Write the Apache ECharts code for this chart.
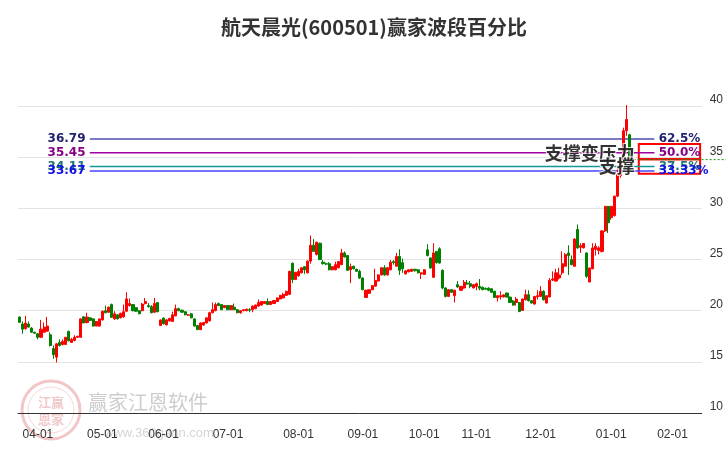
<!DOCTYPE html>
<html><head><meta charset="utf-8">
<script src="https://cdn.jsdelivr.net/npm/echarts@6/dist/echarts.min.js"></script>
<style>html,body{margin:0;padding:0;background:#fff}#c{width:726px;height:450px}</style>
</head><body><div id="c"></div>
<script>
// trading days per month (MM, days)
const monthDays = [
 ['03',[24,25,26,27,30,31]],
 ['04',[1,2,3,7,8,9,10,13,14,15,16,17,20,21,22,23,24,27,28,29,30]],
 ['05',[4,5,6,7,8,11,12,13,14,15,18,19,20,21,22,25,26,27,28,29]],
 ['06',[1,2,3,4,5,8,9,10,11,12,15,16,17,18,19,23,24,25,26,29,30]],
 ['07',[1,2,3,6,7,8,9,10,13,14,15,16,17,20,21,22,23,24,27,28,29,30,31]],
 ['08',[3,4,5,6,7,10,11,12,13,14,17,18,19,20,21,24,25,26,27,28,31]],
 ['09',[1,2,7,8,9,10,11,14,15,16,17,18,21,22,23,24,25,28,29,30]],
 ['10',[8,9,12,13,14,15,16,19,20,21,22,23,26,27,28,29,30]],
 ['11',[2,3,4,5,6,9,10,11,12,13,16,17,18,19,20,23,24,25,26,27,30]],
 ['12',[1,2,3,4,7,8,9,10,11,14,15,16,17,18,21,22,23,24,25,28,29,30,31]],
 ['01',[4,5,6,7,8,11,12,13,14,15,18,19,20,21,22,25,26,27,28,29]],
 ['02',[1,2,3,4,5,15,16,17,18,19]]
];

// [open, close, low, high]
const ohlc = [
[19.38,18.86,18.8,19.45],[18.7,18.2,17.75,18.95],[18.24,18.79,18.15,19.5],[18.7,18.4,18.35,18.95],[18.3,17.9,17.85,18.4],
[17.9,17.8,17.75,17.95],[17.75,17.4,17.2,17.8],[17.4,18.2,17.35,19.1],[17.9,18.4,17.85,18.85],[18.0,18.5,17.95,19.4],
[17.65,16.6,16.5,17.9],[16.3,15.7,15.3,16.6],[15.46,16.76,14.94,16.83],[16.9,16.6,16.5,17.2],[16.7,17.0,16.6,17.2],
[16.7,17.4,16.65,17.45],[17.98,17.06,17.0,18.05],[16.9,17.2,16.85,17.35],[17.1,17.4,17.0,17.6],[17.4,17.5,17.35,17.55],
[17.4,19.2,17.35,19.25],[19.4,18.8,18.78,19.45],[18.85,19.38,18.75,19.8],[19.3,19.05,19.0,19.35],[19.2,18.5,18.45,19.25],
[18.5,18.95,18.48,19.0],[18.5,19.2,18.45,19.22],[19.1,19.95,19.05,20.0],[20.0,19.8,19.75,20.5],[19.85,20.35,19.8,20.4],
[20.6,19.35,19.3,20.7],[19.2,19.7,19.1,19.95],[19.6,19.2,19.15,19.65],[19.3,19.75,19.25,19.8],[19.4,19.9,19.3,20.6],
[19.95,21.15,19.9,21.8],[20.5,20.7,20.4,21.2],[20.6,20.0,19.95,20.65],[20.3,19.95,19.9,20.35],[20.0,19.7,19.65,20.05],
[20.0,20.65,19.95,20.75],[20.7,20.9,20.6,21.25],[20.5,20.4,20.3,20.75],[20.4,19.8,19.75,20.55],[19.85,20.7,19.8,21.25],
[20.8,19.9,19.85,20.85],[18.55,19.1,18.5,19.15],[19.28,18.72,18.65,19.35],
[18.62,19.1,18.55,19.2],[19.0,19.25,18.95,19.3],[18.95,19.6,18.9,19.9],[19.5,20.2,19.45,20.6],[20.2,20.0,19.95,20.3],
[20.05,19.85,19.8,20.1],[19.9,19.6,19.55,19.95],[19.55,19.6,19.5,19.65],[19.7,19.3,19.25,19.8],[19.2,18.5,18.45,19.25],
[18.55,18.15,18.1,18.6],[18.15,18.8,18.1,18.85],[18.6,18.85,18.55,18.9],[18.8,19.3,18.75,19.35],[19.0,19.8,18.95,19.9],
[19.8,20.1,19.75,20.8],[20.0,20.6,19.95,20.8],[20.7,20.5,20.45,20.8],[20.6,20.1,20.05,20.65],[20.3,20.5,20.25,20.55],
[20.5,20.1,20.05,20.55],[20.1,20.5,20.05,20.55],[20.35,20.1,20.05,20.7],[20.1,19.8,19.75,20.15],[19.8,20.0,19.7,20.05],
[20.0,20.1,19.95,20.15],[20.0,20.15,19.95,20.2],[20.1,20.05,19.85,20.25],[20.1,20.45,19.85,20.5],[20.2,20.55,20.15,20.6],
[20.45,20.8,20.4,21.1],[20.55,20.9,20.5,20.95],[20.7,20.9,20.65,20.95],[20.9,20.6,20.55,21.2],[20.6,20.9,20.55,20.95],
[20.7,21.0,20.65,21.05],[20.9,21.25,20.85,21.3],[21.15,21.5,21.1,21.55],[21.25,21.6,21.2,21.75],[21.5,21.9,21.45,21.95],
[21.6,23.85,21.55,23.9],[24.65,23.05,22.7,24.7],[23.05,23.75,23.0,23.8],[23.4,23.85,23.35,24.1],[23.7,24.2,23.65,24.25],
[24.3,24.0,23.6,24.35],[23.7,24.85,23.65,24.9],[24.85,26.4,24.6,27.35],[26.4,25.8,25.75,27.0],[25.5,26.7,25.4,26.75],
[26.6,25.0,24.95,26.65],
[24.75,24.6,24.5,24.95],[24.6,24.55,24.45,24.7],[24.6,24.0,23.95,24.75],[24.0,24.3,23.95,24.35],[24.0,24.5,23.95,24.8],
[24.2,24.8,24.15,24.85],[24.5,25.65,24.45,26.05],[25.65,25.25,25.2,25.8],[25.4,23.95,23.9,25.45],[24.0,24.3,22.7,24.6],
[24.35,24.1,24.05,24.4],[24.05,23.85,23.8,24.1],[23.85,23.2,23.1,24.0],[23.2,22.05,22.0,23.25],[21.3,22.0,21.25,22.05],
[21.7,22.05,21.65,22.1],[22.05,22.45,22.0,22.5],[22.4,22.95,22.35,24.1],[22.9,23.5,22.85,23.55],[23.5,24.2,23.45,24.25],
[24.2,23.5,23.4,24.45],[23.5,24.2,23.45,24.25],[24.0,24.75,23.95,24.95],[24.8,24.7,24.5,24.95],[24.35,25.3,24.3,25.65],
[25.3,23.95,23.5,26.0],[24.7,24.1,23.7,25.1],[23.6,23.9,23.55,23.95],[23.8,24.0,23.75,24.05],[23.85,24.05,23.8,24.1],
[24.05,23.9,23.85,24.1],[24.0,23.7,23.65,24.05],[23.6,23.7,23.1,23.75],[23.55,24.0,23.5,24.05],[25.95,25.4,25.3,26.5],
[25.16,24.18,24.1,25.2],[23.27,25.65,23.2,26.6],[25.8,24.7,24.6,25.85],[26.05,24.67,24.6,26.2],
[23.95,22.22,22.1,24.05],[22.22,21.4,21.3,22.3],[21.4,22.06,21.35,22.1],[22.06,21.8,21.75,22.1],[21.47,22.0,20.8,22.05],
[22.55,22.32,22.25,22.9],[21.99,22.38,21.95,22.42],[22.22,22.78,22.15,23.0],[22.7,22.6,22.55,23.0],[22.64,22.38,22.2,22.9],
[22.22,22.55,22.2,22.6],[22.38,22.64,22.0,22.75],[22.38,22.2,22.0,23.1],[22.3,22.06,22.0,22.35],[22.2,22.1,22.05,22.25],
[22.2,22.0,21.9,22.3],[22.15,21.8,21.75,22.2],[21.9,21.3,21.25,21.95],[21.27,21.47,20.9,21.5],[21.35,21.47,21.1,21.9],
[21.35,21.55,21.3,21.6],[21.73,21.33,21.3,21.78],[21.33,20.8,20.75,21.38],[20.95,20.55,20.5,21.05],[20.8,21.14,20.5,21.35],
[20.8,19.93,19.85,20.85],[20.03,21.14,20.0,21.2],[21.07,21.57,21.0,22.06],[21.57,20.98,20.9,22.0],[20.98,20.75,20.7,21.05],
[20.65,21.4,20.6,21.45],[21.36,21.47,21.1,22.0],[21.4,21.9,21.35,22.4],[21.9,21.07,21.0,22.0],[20.75,21.47,20.7,21.5],
[21.35,22.97,21.3,23.2],[23.0,23.1,22.9,23.85],[22.9,23.7,22.85,24.1],[23.2,23.5,23.05,24.2],[23.7,24.6,23.5,25.8],
[24.35,25.5,24.3,25.65],[25.65,25.4,23.5,26.4],[25.0,24.5,24.45,25.4],[24.35,27.0,24.3,27.1],[27.94,26.14,26.05,28.43],
[26.2,26.35,25.65,26.6],[26.14,26.57,26.1,26.6],[25.65,23.36,23.2,25.7],[22.8,24.18,22.8,24.2],[24.1,26.14,24.05,26.6],
[26.0,26.3,25.4,26.6],[25.9,26.14,25.5,26.3],[25.8,27.8,25.7,27.9],[27.8,30.2,27.7,30.25],[30.2,28.6,27.6,30.25],
[29.1,30.2,28.9,30.25],[29.3,31.2,29.2,31.25],[31.2,33.3,31.1,33.9],[33.2,34.8,33.0,35.0],[34.8,37.6,34.5,37.9],
[37.6,38.7,37.1,40.1],[37.2,34.77,34.7,37.3]
];

const levelValues = [36.79, 35.45, 34.11, 33.67];
const levelPercents = ['62.5%', '50.0%', '37.5%', '33.33%'];
const levelLineColors = ['#7a7ac2', '#a000a0', '#119999', '#4444ff'];
const levelTextColors = ['#22226e', '#880088', '#1f7777', '#1010e6'];
const noteTexts = ['支撑变压力', '支撑'];
const noteValues = [35.45, 34.11];

const categories = [];
const monthStart = new Set();
monthDays.forEach(([m, days]) => {
  monthStart.add(categories.length);
  days.forEach(d => categories.push(m + '-' + String(d).padStart(2, '0')));
});

const lineStart = 23, lineEnd = 207, noteIdx = 201;
const lastIdx = ohlc.length - 1;
const lastClose = ohlc[lastIdx][1];

const chart = echarts.init(document.getElementById('c'));

const levelSeries = levelValues.map((v, k) => ({
  type: 'line', z: 1, silent: true, animation: false,
  symbol: 'circle', symbolSize: 1, showSymbol: true,
  itemStyle: {color: levelLineColors[k]},
  lineStyle: {color: levelLineColors[k], width: k === 0 ? 2 : 1.5},
  data: [
    {value: [lineStart, v], label: {show: true, position: 'left', distance: 4, formatter: v.toFixed(2),
      color: levelTextColors[k], fontWeight: 'bold', fontSize: 12, fontFamily: 'Verdana, "DejaVu Sans", sans-serif'}},
    {value: [lineEnd, v], label: {show: true, position: 'right', distance: 4, formatter: levelPercents[k],
      color: levelTextColors[k], fontWeight: 'bold', fontSize: 12, fontFamily: 'Verdana, "DejaVu Sans", sans-serif'}}
  ]
}));

const option = {
  animation: false,
  title: {
    text: '航天晨光(600501)赢家波段百分比', left: 216, top: 12,
    textStyle: {fontSize: 20, fontWeight: 'bold', color: '#333', fontFamily: '"Noto Sans CJK SC", sans-serif'}
  },
  grid: {left: 18, right: 23, top: 55, bottom: 37},
  xAxis: {
    type: 'category', data: categories, boundaryGap: true,
    axisLine: {lineStyle: {color: '#333'}},
    axisTick: {alignWithLabel: true, interval: (i) => monthStart.has(i), length: 6, lineStyle: {color: '#333'}},
    axisLabel: {interval: (i) => monthStart.has(i), formatter: (v) => v.slice(0, 2) + '-01',
      color: '#333', fontSize: 12, margin: 16, fontFamily: '"Liberation Sans", Arial, sans-serif'},
    splitLine: {show: false}
  },
  yAxis: {
    type: 'value', position: 'right', min: 10, max: 45, interval: 5,
    axisLine: {show: false}, axisTick: {show: false},
    axisLabel: {color: '#333', fontSize: 12, verticalAlign: 'bottom', margin: 8, showMaxLabel: false,
      fontFamily: '"Liberation Sans", Arial, sans-serif'},
    splitLine: {show: true, showMaxLine: false, lineStyle: {color: '#e3e3e3'}}
  },
  series: [
    ...levelSeries,
    {
      type: 'candlestick', z: 3, data: ohlc, barWidth: 2.6,
      itemStyle: {color: '#ff0000', color0: '#008000', borderColor: '#ff0000', borderColor0: '#008000', borderWidth: 1}
    },
    {
      type: 'scatter', z: 5, silent: true, symbolSize: 0,
      data: noteValues.map((v, k) => ({value: [noteIdx, v], label: {show: true, position: 'left', distance: 1,
        formatter: noteTexts[k], color: '#000', fontSize: 18, fontWeight: 'bold',
        fontFamily: '"Noto Sans CJK SC", sans-serif', textBorderColor: '#fff', textBorderWidth: 2}})),
      markArea: {
        silent: true,
        itemStyle: {color: 'rgba(0,0,0,0)', borderColor: '#ff0000', borderWidth: 2},
        data: [
          [{xAxis: 202, yAxis: 36.3}, {xAxis: 222, yAxis: 34.8}],
          [{xAxis: 202, yAxis: 34.8}, {xAxis: 222, yAxis: 33.4}]
        ]
      }
    }
  ]
};
chart.setOption(option);

const p0 = chart.convertToPixel({xAxisIndex: 0, yAxisIndex: 0}, [lastIdx, lastClose]);
chart.setOption({
  graphic: [
    {type: 'line', z: 4, silent: true, shape: {x1: p0[0], y1: p0[1], x2: chart.getWidth(), y2: p0[1]},
      style: {stroke: '#109910', lineWidth: 1, lineDash: [2, 2]}},
    {type: 'circle', z: -1, silent: true, shape: {cx: 51, cy: 410, r: 29}, style: {fill: 'rgba(0,0,0,0)', stroke: '#f2c6c6', lineWidth: 3}},
    {type: 'circle', z: -1, silent: true, shape: {cx: 51, cy: 410, r: 23}, style: {fill: 'rgba(0,0,0,0)', stroke: '#f6d6d6', lineWidth: 1}},
    {type: 'text', z: -1, silent: true, x: 51, y: 402, style: {text: '江赢', fill: '#f0caca', font: 'bold 13px "Noto Sans CJK SC"', align: 'center', verticalAlign: 'middle'}},
    {type: 'text', z: -1, silent: true, x: 51, y: 419, style: {text: '恩家', fill: '#f0caca', font: 'bold 13px "Noto Sans CJK SC"', align: 'center', verticalAlign: 'middle'}},
    {type: 'text', z: -1, silent: true, x: 88, y: 402, style: {text: '赢家江恩软件', fill: '#cdcdcd', font: '20px "Noto Sans CJK SC"', verticalAlign: 'middle'}},
    {type: 'text', z: -1, silent: true, x: 104, y: 433, style: {text: 'www.360gann.com', fill: '#d6d6d6', font: '13px "Liberation Sans", Arial', verticalAlign: 'middle'}}
  ]
});
</script>
</body></html>
